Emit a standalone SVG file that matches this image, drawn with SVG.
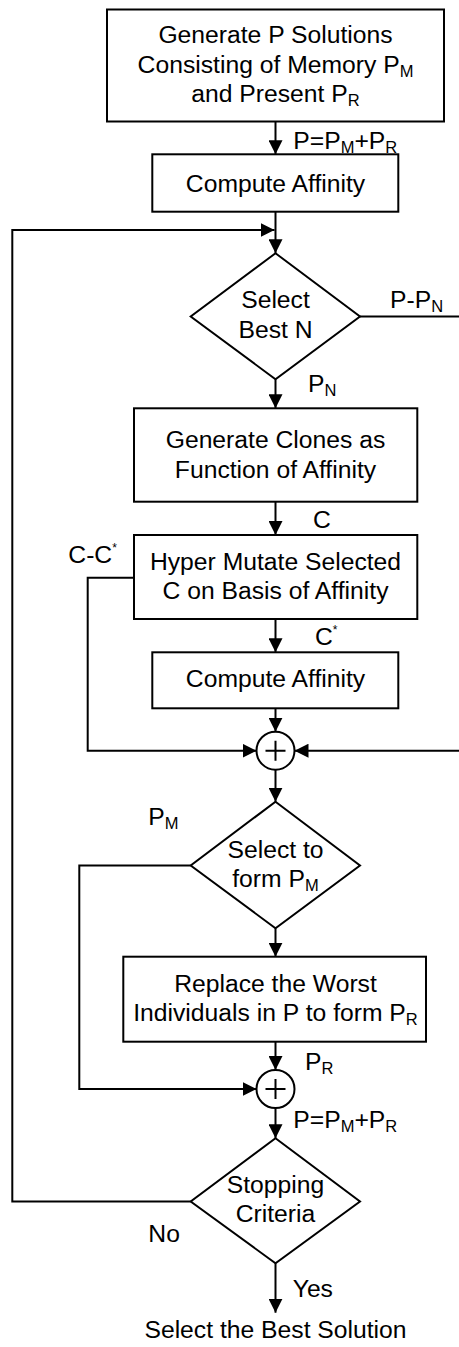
<svg xmlns="http://www.w3.org/2000/svg" width="459" height="1347" viewBox="0 0 459 1347">
<defs>
<style>
.box{fill:#fff;stroke:#000;stroke-width:2}
.ln{fill:none;stroke:#000;stroke-width:2}
.t{font-family:"Liberation Sans",Arial,sans-serif;font-size:24.7px;fill:#000}
.c{text-anchor:middle}
.sub{font-size:16.5px}
.sup{font-size:12px}
</style>
<marker id="ah" markerUnits="userSpaceOnUse" markerWidth="14" markerHeight="14" refX="14" refY="7" orient="auto" viewBox="0 0 14 14">
<path d="M0,0 L14,7 L0,14 z" fill="#000"/>
</marker>
</defs>
<rect width="459" height="1347" fill="#fff"/>
<g id="connectors">
<path class="ln" d="M275.5,121.7 V154.3" marker-end="url(#ah)"/>
<path class="ln" d="M275.5,211.7 V253.3" marker-end="url(#ah)"/>
<path class="ln" d="M190.7,1201.5 H12.3 V230 H274.5" marker-end="url(#ah)"/>
<path class="ln" d="M360,316.5 H459"/>
<path class="ln" d="M275.5,379.3 V408.3" marker-end="url(#ah)"/>
<path class="ln" d="M275.5,501.7 V535" marker-end="url(#ah)"/>
<path class="ln" d="M134,577.7 H87.7 V750.7 H256.5" marker-end="url(#ah)"/>
<path class="ln" d="M275.5,619 V652.3" marker-end="url(#ah)"/>
<path class="ln" d="M275.5,708.3 V731.7" marker-end="url(#ah)"/>
<path class="ln" d="M459,750.7 H294.5" marker-end="url(#ah)"/>
<path class="ln" d="M275.5,769.7 V801.7" marker-end="url(#ah)"/>
<path class="ln" d="M190.7,865.5 H79.3 V1089 H256.5" marker-end="url(#ah)"/>
<path class="ln" d="M275.5,928.3 V956.7" marker-end="url(#ah)"/>
<path class="ln" d="M275.5,1041.7 V1070" marker-end="url(#ah)"/>
<path class="ln" d="M275.5,1108 V1138.3" marker-end="url(#ah)"/>
<path class="ln" d="M275.5,1263.3 V1312.7" marker-end="url(#ah)"/>
</g>
<g id="labels">
<text class="t" x="293.3" y="148.5">P=P<tspan class="sub" dy="4">M</tspan><tspan dy="-4">+P</tspan><tspan class="sub" dy="4">R</tspan></text>
<text class="t" x="390" y="308.3">P-P<tspan class="sub" dy="4">N</tspan></text>
<text class="t" x="308" y="391.7">P<tspan class="sub" dy="4">N</tspan></text>
<text class="t" x="313" y="528.3">C</text>
<text class="t" x="68.3" y="563.3">C-C<tspan class="sup" dy="-11">*</tspan></text>
<text class="t" x="315" y="645">C<tspan class="sup" dy="-11">*</tspan></text>
<text class="t" x="148.3" y="825">P<tspan class="sub" dy="4">M</tspan></text>
<text class="t" x="305" y="1070">P<tspan class="sub" dy="4">R</tspan></text>
<text class="t" x="293.3" y="1128.3">P=P<tspan class="sub" dy="4">M</tspan><tspan dy="-4">+P</tspan><tspan class="sub" dy="4">R</tspan></text>
<text class="t" x="148.3" y="1241.7">No</text>
<text class="t" x="292.7" y="1296.7">Yes</text>
</g>
<g id="n1">
<rect class="box" x="107" y="9.5" width="337" height="112"/>
<text class="t c" x="275.5" y="43">Generate P Solutions</text>
<text class="t c" x="275.5" y="73">Consisting of Memory P<tspan class="sub" dy="4">M</tspan></text>
<text class="t c" x="275.5" y="102">and Present P<tspan class="sub" dy="4">R</tspan></text>
</g>
<g id="n2">
<rect class="box" x="152.3" y="154.3" width="246" height="57.4"/>
<text class="t c" x="275.5" y="191.5">Compute Affinity</text>
</g>
<g id="n3">
<polygon class="box" points="275.5,253.3 360,316.5 275.5,379.3 190.7,316.5"/>
<text class="t c" x="275.5" y="308.3">Select</text>
<text class="t c" x="275.5" y="337.7">Best N</text>
</g>
<g id="n4">
<rect class="box" x="134" y="408.3" width="283.3" height="93.4"/>
<text class="t c" x="275.5" y="447.7">Generate Clones as</text>
<text class="t c" x="275.5" y="478.3">Function of Affinity</text>
</g>
<g id="n5">
<rect class="box" x="134" y="535" width="283.3" height="84"/>
<text class="t c" x="275.5" y="570">Hyper Mutate Selected</text>
<text class="t c" x="275.5" y="599.3">C on Basis of Affinity</text>
</g>
<g id="n6">
<rect class="box" x="152.3" y="652.3" width="246" height="56"/>
<text class="t c" x="275.5" y="687.3">Compute Affinity</text>
</g>
<g id="n7">
<circle class="box" cx="275.5" cy="750.7" r="19"/>
<path class="ln" stroke-width="2.5" d="M265.5,750.7 H285.5 M275.5,740.7 V760.7"/>
</g>
<g id="n8">
<polygon class="box" points="275.5,801.7 360,865.5 275.5,928.3 190.7,865.5"/>
<text class="t c" x="275.5" y="858.3">Select to</text>
<text class="t c" x="275.5" y="887.3">form P<tspan class="sub" dy="4">M</tspan></text>
</g>
<g id="n9">
<rect class="box" x="123.3" y="956.7" width="302.7" height="85"/>
<text class="t c" x="275.5" y="991.7">Replace the Worst</text>
<text class="t c" x="275.5" y="1021">Individuals in P to form P<tspan class="sub" dy="4">R</tspan></text>
</g>
<g id="n10">
<circle class="box" cx="275.5" cy="1089" r="19"/>
<path class="ln" stroke-width="2.5" d="M265.5,1089 H285.5 M275.5,1079 V1099"/>
</g>
<g id="n11">
<polygon class="box" points="275.5,1138.3 360,1201.5 275.5,1263.3 190.7,1201.5"/>
<text class="t c" x="275.5" y="1193.3">Stopping</text>
<text class="t c" x="275.5" y="1221.7">Criteria</text>
</g>
<g id="n12">
<text class="t c" x="275.5" y="1338.3">Select the Best Solution</text>
</g>
</svg>
